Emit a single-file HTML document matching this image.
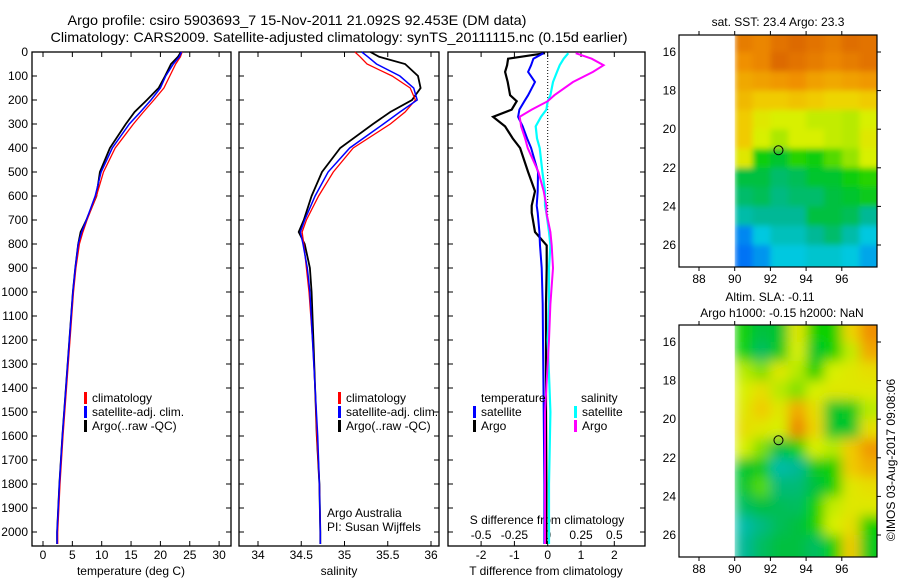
<!DOCTYPE html>
<html><head><meta charset="utf-8"><style>
html,body{margin:0;padding:0;background:#fff;}
svg{display:block;font-family:"Liberation Sans",sans-serif;}
text{font-size:12px;fill:#000;}
</style></head><body>
<svg id="fig" width="900" height="580" viewBox="0 0 900 580">
<defs>
<filter id="blurS" x="-5%" y="-5%" width="110%" height="110%"><feGaussianBlur stdDeviation="3"/></filter>
<filter id="blurA" x="-5%" y="-5%" width="110%" height="110%"><feGaussianBlur stdDeviation="6"/></filter>
</defs>
<text x="297" y="25" text-anchor="middle" textLength="459" lengthAdjust="spacingAndGlyphs" style="font-size:14px">Argo profile: csiro 5903693_7 15-Nov-2011 21.092S 92.453E (DM data)</text>
<text x="339" y="42" text-anchor="middle" textLength="577" lengthAdjust="spacingAndGlyphs" style="font-size:14px">Climatology: CARS2009. Satellite-adjusted climatology: synTS_20111115.nc (0.15d earlier)</text>
<g id="plots"></g>
</svg>
<script>
// ---------- data ----------
const tDepth = [0,20,50,100,150,200,250,300,400,500,600,700,750,800,900,1000,1200,1400,1600,1800,2000,2050];
const tClim  = [23.7,23.4,22.6,21.6,20.6,18.9,17.1,15.4,12.3,10.3,9.1,7.5,6.8,6.2,5.6,5.2,4.6,4.0,3.4,2.9,2.5,2.5];
const tSat   = [23.6,23.2,22.2,20.9,20.0,18.4,16.6,14.7,11.8,9.9,8.9,7.4,6.6,6.0,5.5,5.1,4.5,3.9,3.3,2.8,2.4,2.4];
const tArgo  = [23.5,23.0,21.8,20.8,19.7,17.7,15.6,14.1,11.4,9.7,9.1,7.4,6.4,6.0,5.5,5.1,4.5,3.9,3.3,2.8,2.4,2.4];
const sClim  = [35.12,35.18,35.26,35.55,35.76,35.82,35.70,35.53,35.10,34.87,34.70,34.56,34.51,34.53,34.56,34.59,34.63,34.66,34.68,34.71,34.72,34.72];
const sSat   = [35.20,35.27,35.37,35.64,35.80,35.84,35.64,35.45,35.06,34.81,34.66,34.54,34.49,34.52,34.57,34.60,34.63,34.66,34.69,34.71,34.72,34.72];
const sArgo  = [35.30,35.40,35.70,35.85,35.88,35.78,35.53,35.33,34.95,34.74,34.62,34.53,34.47,34.54,34.60,34.62,34.64,34.66,34.68,34.71,34.72,34.72];
const dDepth = [5,28,55,83,125,180,205,240,270,310,360,400,500,580,640,670,750,806,900,1050,1200,1500,1800,2050];
const dtSat  = [-0.13,-0.43,-0.5,-0.59,-0.38,-0.59,-0.7,-0.85,-0.89,-0.75,-0.62,-0.5,-0.29,-0.3,-0.33,-0.3,-0.25,-0.23,-0.18,-0.15,-0.14,-0.12,-0.1,-0.1];
const dtArgo = [-0.08,-1.19,-1.22,-1.28,-1.2,-1.13,-0.93,-1.08,-1.64,-1.28,-1.05,-0.83,-0.59,-0.38,-0.48,-0.48,-0.38,-0.03,-0.03,-0.05,-0.05,-0.05,-0.04,-0.04];
const dsSat  = [0.155,0.12,0.09,0.07,0.04,0.02,0.0,-0.01,-0.05,-0.09,-0.08,-0.06,-0.04,-0.02,-0.02,-0.01,0.01,0.02,0.01,0.01,0.0,0.02,0.01,0.01];
const dsArgo = [0.21,0.33,0.42,0.34,0.19,0.05,0.0,-0.12,-0.21,-0.2,-0.17,-0.15,-0.07,-0.03,-0.01,-0.01,0.02,0.03,0.04,0.02,0.01,-0.02,-0.02,-0.02];
const depthTicks = [0,100,200,300,400,500,600,700,800,900,1000,1100,1200,1300,1400,1500,1600,1700,1800,1900,2000];
const tTicks = [0,5,10,15,20,25,30];
const sTicks = [34,34.5,35,35.5,36];
const dTTicks = [-2,-1,0,1,2];
const dSTicks = [-0.5,-0.25,0,0.25,0.5];
const dSLabels = ["-0.5","-0.25","0","0.25","0.5"];
const lonTicks = [88,90,92,94,96];
const latTicks = [16,18,20,22,24,26];
const mapLons = [90,91,92,93,94,95,96,97];
const mapLats = [15,16,17,18,19,20,21,22,23,24,25,26];
const sstGrid = [
[0.84,0.82,0.86,0.88,0.86,0.84,0.87,0.86],
[0.80,0.82,0.88,0.86,0.84,0.82,0.84,0.86],
[0.74,0.76,0.78,0.80,0.76,0.74,0.76,0.78],
[0.70,0.66,0.66,0.68,0.66,0.64,0.64,0.66],
[0.66,0.60,0.58,0.58,0.56,0.56,0.55,0.58],
[0.66,0.58,0.54,0.58,0.58,0.56,0.55,0.60],
[0.60,0.44,0.40,0.46,0.44,0.48,0.52,0.58],
[0.38,0.38,0.34,0.36,0.40,0.40,0.44,0.46],
[0.34,0.36,0.32,0.34,0.34,0.38,0.40,0.42],
[0.28,0.30,0.30,0.30,0.38,0.38,0.36,0.30],
[0.14,0.22,0.26,0.26,0.30,0.34,0.28,0.22],
[0.10,0.16,0.22,0.22,0.24,0.24,0.22,0.18]];
const slaGrid = [
[0.45,0.38,0.40,0.60,0.45,0.45,0.64,0.80],
[0.45,0.35,0.42,0.58,0.40,0.45,0.56,0.74],
[0.55,0.50,0.60,0.55,0.45,0.58,0.60,0.62],
[0.58,0.62,0.55,0.50,0.58,0.60,0.60,0.60],
[0.60,0.66,0.60,0.74,0.62,0.40,0.42,0.55],
[0.62,0.60,0.58,0.82,0.64,0.40,0.40,0.62],
[0.58,0.50,0.38,0.45,0.58,0.55,0.66,0.78],
[0.40,0.42,0.28,0.30,0.42,0.45,0.66,0.72],
[0.40,0.48,0.33,0.33,0.38,0.45,0.60,0.62],
[0.35,0.38,0.36,0.35,0.45,0.56,0.60,0.60],
[0.28,0.32,0.36,0.38,0.45,0.58,0.62,0.45],
[0.30,0.35,0.38,0.38,0.35,0.45,0.66,0.42]];
const argoLon = 92.453, argoLat = 21.092;

// ---------- helpers ----------
const NS="http://www.w3.org/2000/svg";
const root=document.getElementById('plots');
function mk(tag,attrs,parent){const e=document.createElementNS(NS,tag);for(const k in attrs)e.setAttribute(k,attrs[k]);(parent||root).appendChild(e);return e;}
function txt(x,y,s,anchor,parent,size){const e=mk('text',{x:x,y:y,'text-anchor':anchor||'start'},parent);if(size)e.style.fontSize=size+'px';e.textContent=s;return e;}
const Y0=52, PXM=0.24;
const yD=d=>Y0+d*PXM;
const xT=t=>43+t*5.87;
const xS=s=>258+(s-34)*86.5;
const xDT=t=>547.7+t*33.3;
const xDS=s=>547.7+s*133.2;
const B=546;

function frame(x1,x2,name){
  const r=mk('rect',{x:x1,y:Y0,width:x2-x1,height:B-Y0,fill:'none',stroke:'#000','stroke-width':1.3});
  
  
}
function line(xs,ds,fx,color,w,name){
  let p='';
  for(let i=0;i<xs.length;i++){p+=(i?'L':'M')+fx(xs[i]).toFixed(1)+','+yD(ds[i]).toFixed(1);}
  const e=mk('path',{d:p,fill:'none',stroke:color,'stroke-width':w});
  
  
}
function legend(x,y,items,parentName){
  const g=mk('g',{});
  
  
  items.forEach((it,i)=>{
    mk('rect',{x:x,y:y+i*14-10,width:3,height:12,fill:it[0]},g);
    txt(x+8,y+i*14,it[1],'start',g);
  });
}

const ya=mk('g',{});


depthTicks.forEach(d=>{txt(28,yD(d)+4,String(d),'end',ya);});

frame(32,231,'temperature-panel');
frame(239,439,'salinity-panel');
frame(448,645,'difference-panel');
depthTicks.forEach(d=>{
  mk('line',{x1:32,x2:37,y1:yD(d),y2:yD(d),stroke:'#000'});
  mk('line',{x1:226,x2:231,y1:yD(d),y2:yD(d),stroke:'#000'});
  mk('line',{x1:239,x2:244,y1:yD(d),y2:yD(d),stroke:'#000'});
  mk('line',{x1:434,x2:439,y1:yD(d),y2:yD(d),stroke:'#000'});
  mk('line',{x1:448,x2:453,y1:yD(d),y2:yD(d),stroke:'#000'});
  mk('line',{x1:640,x2:645,y1:yD(d),y2:yD(d),stroke:'#000'});
});
tTicks.forEach(t=>{const x=xT(t);mk('line',{x1:x,x2:x,y1:B,y2:B-5,stroke:'#000'});mk('line',{x1:x,x2:x,y1:Y0,y2:Y0+5,stroke:'#000'});txt(x,559,String(t),'middle');});
sTicks.forEach(s=>{const x=xS(s);mk('line',{x1:x,x2:x,y1:B,y2:B-5,stroke:'#000'});mk('line',{x1:x,x2:x,y1:Y0,y2:Y0+5,stroke:'#000'});txt(x,559,String(s),'middle');});
dTTicks.forEach(t=>{const x=xDT(t);mk('line',{x1:x,x2:x,y1:B,y2:B-5,stroke:'#000'});mk('line',{x1:x,x2:x,y1:Y0,y2:Y0+5,stroke:'#000'});txt(x,559,String(t),'middle');});
dSTicks.forEach((s,i)=>{txt(xDS(s),539,dSLabels[i],'middle');});
txt(131,575,'temperature (deg C)','middle');
txt(339,575,'salinity','middle');
txt(546,575,'T difference from climatology','middle');
txt(547,524,'S difference from climatology','middle');
mk('line',{x1:xDT(0),x2:xDT(0),y1:Y0,y2:217,stroke:'#000','stroke-dasharray':'1,2'});

line(tArgo,tDepth,xT,'#000',1.8,'temp-argo-line');
line(tClim,tDepth,xT,'#f00',1.3,'temp-climatology-line');
line(tSat,tDepth,xT,'#00f',1.5,'temp-satellite-line');
line(sArgo,tDepth,xS,'#000',1.8,'sal-argo-line');
line(sClim,tDepth,xS,'#f00',1.3,'sal-climatology-line');
line(sSat,tDepth,xS,'#00f',1.5,'sal-satellite-line');
line(dtArgo,dDepth,xDT,'#000',2.2,'tdiff-argo-line');
line(dtSat,dDepth,xDT,'#00f',2,'tdiff-satellite-line');
line(dsSat,dDepth,xDS,'#0ff',2.2,'sdiff-satellite-line');
line(dsArgo,dDepth,xDS,'#f0f',2,'sdiff-argo-line');

legend(84,402,[['#f00','climatology'],['#00f','satellite-adj. clim.'],['#000','Argo(..raw -QC)']],'temperature-legend');
legend(338,402,[['#f00','climatology'],['#00f','satellite-adj. clim.'],['#000','Argo(..raw -QC)']],'salinity-legend');
txt(481,402,'temperature');txt(581,402,'salinity');
legend(473,416,[['#00f','satellite'],['#000','Argo']],'tdiff-legend');
legend(574,416,[['#0ff','satellite'],['#f0f','Argo']],'sdiff-legend');
txt(327,517,'Argo Australia');
txt(327,531,'PI: Susan Wijffels');

// ---------- maps ----------
const stops=[[0,[0,64,255]],[0.15,[0,140,240]],[0.22,[0,200,224]],[0.3,[0,184,150]],[0.38,[0,192,64]],[0.45,[16,208,0]],[0.5,[128,224,0]],[0.58,[216,240,0]],[0.65,[240,208,0]],[0.72,[240,176,0]],[0.8,[240,144,0]],[0.9,[216,96,0]],[1,[200,80,0]]];
function cmap(v){for(let i=1;i<stops.length;i++){if(v<=stops[i][0]){const a=stops[i-1],b=stops[i];const f=(v-a[0])/(b[0]-a[0]);const c=a[1].map((x,j)=>Math.round(x+(b[1][j]-x)*f));return 'rgb('+c.join(',')+')';}}return 'rgb(200,80,0)';}
function drawMap(top,grid,name,blur){
  const L=679,R=877,T=top,Bm=top+232;
  const xL=lon=>699+(lon-88)*17.85;
  const yL=lat=>top+17+(lat-16)*19.3;
  const g=mk('g',{});
  
  
  const cp=mk('clipPath',{id:'cp'+top},g);mk('rect',{x:xL(90),y:T,width:R-xL(90),height:Bm-T},cp);
  const outer=mk('g',{'clip-path':'url(#cp'+top+')'},g);
  const cg=mk('g',{filter:'url(#'+blur+')'},outer);
  for(let r=0;r<mapLats.length;r++)for(let c=0;c<mapLons.length;c++){
    const x0=xL(mapLons[c]), y0=yL(mapLats[r]);
    const w=18.4+(c===mapLons.length-1?20:0);
    const h=19.9+(r===0?20:0)+(r===mapLats.length-1?20:0);
    const cell=mk('rect',{x:x0.toFixed(1),y:(r===0?y0-20:y0).toFixed(1),width:w,height:h,fill:cmap(grid[r][c])},cg);
    
    
  }
  mk('rect',{x:L,y:T,width:R-L,height:Bm-T,fill:'none',stroke:'#000','stroke-width':1.2},g);
  lonTicks.forEach(l=>{const x=xL(l);mk('line',{x1:x,x2:x,y1:T,y2:T-4,stroke:'#000'},g);mk('line',{x1:x,x2:x,y1:Bm,y2:Bm+4,stroke:'#000'},g);txt(x,Bm+16,String(l),'middle',g);});
  latTicks.forEach(l=>{const y=yL(l);mk('line',{x1:R,x2:R+4,y1:y,y2:y,stroke:'#000'},g);txt(676,y+4,String(l),'end',g);});
  const c=mk('circle',{cx:xL(argoLon),cy:yL(argoLat),r:4.5,fill:'none',stroke:'#000','stroke-width':1},g);
  
  
}
drawMap(35,sstGrid,'sst-map','blurS');
drawMap(325,slaGrid,'sla-map','blurA');
txt(778,26,'sat. SST: 23.4  Argo: 23.3','middle');
txt(770,301,'Altim. SLA: -0.11','middle');
txt(782,317,'Argo h1000: -0.15 h2000: NaN','middle');
const cr=txt(0,0,'©IMOS 03-Aug-2017 09:08:06','middle');
cr.setAttribute('transform','translate(895,460) rotate(-90)');

</script>
</body></html>
